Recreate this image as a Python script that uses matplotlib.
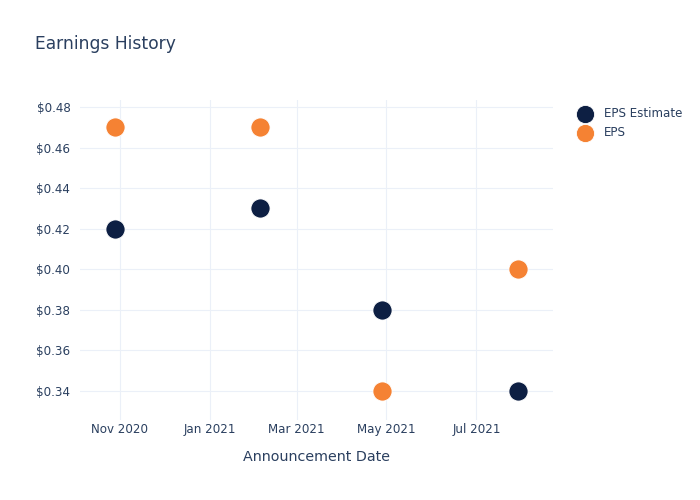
import numpy as np
import pandas as pd
import matplotlib
matplotlib.use("Agg")
import matplotlib.pyplot as plt
import matplotlib.dates as mdates
from matplotlib.ticker import FuncFormatter

# data
dates = pd.to_datetime(["2020-10-29", "2021-02-04", "2021-04-28", "2021-07-29"])
eps_estimate = [0.42, 0.43, 0.38, 0.34]
eps_actual = [0.47, 0.47, 0.34, 0.40]
tick_dates = pd.to_datetime(["2020-11-01", "2021-01-01", "2021-03-01", "2021-05-01", "2021-07-01"])
tick_labels = ["Nov 2020", "Jan 2021", "Mar 2021", "May 2021", "Jul 2021"]
y_ticks = [0.34, 0.36, 0.38, 0.40, 0.42, 0.44, 0.46, 0.48]

txt = "#2a3f5f"
grid = "#ebf0f8"
navy = "#0d1f43"
orange = "#f58233"

plt.rcParams["font.family"] = "DejaVu Sans"

fig = plt.figure(figsize=(7, 5), dpi=100)
ax = fig.add_axes([80 / 700, 80 / 500, 473 / 700, 320 / 500])

ax.scatter(dates, eps_estimate, s=190, color=navy, edgecolor="white", linewidth=0.6,
           label="EPS Estimate", zorder=3)
ax.scatter(dates, eps_actual, s=190, color=orange, edgecolor="white", linewidth=0.6,
           label="EPS", zorder=3)

ax.set_xlim(pd.Timestamp("2020-10-05"), pd.Timestamp("2021-08-22"))
ax.set_ylim(0.3257, 0.4835)

ax.set_xticks(tick_dates)
ax.set_xticklabels(tick_labels)
ax.set_yticks(y_ticks)
ax.yaxis.set_major_formatter(FuncFormatter(lambda v, p: "$%.2f" % v))

ax.grid(True, color=grid, linewidth=0.8, zorder=0)
ax.set_axisbelow(True)
for s in ax.spines.values():
    s.set_visible(False)
ax.tick_params(axis="y", length=0, labelsize=8.6, labelcolor=txt, pad=7)
ax.tick_params(axis="x", length=0, labelsize=8.6, labelcolor=txt, pad=2)

ax.set_xlabel("Announcement Date", fontsize=10.3, color=txt, labelpad=10)
fig.text(35 / 700, 1 - 44 / 500, "Earnings History", fontsize=12.3, color=txt, va="center")

leg = ax.legend(loc="upper left", bbox_to_anchor=(1.02, 1.012), frameon=False,
                fontsize=8.6, labelcolor=txt, handletextpad=0.6, labelspacing=0.5,
                markerscale=0.95)

fig.savefig("out.png", dpi=100)
